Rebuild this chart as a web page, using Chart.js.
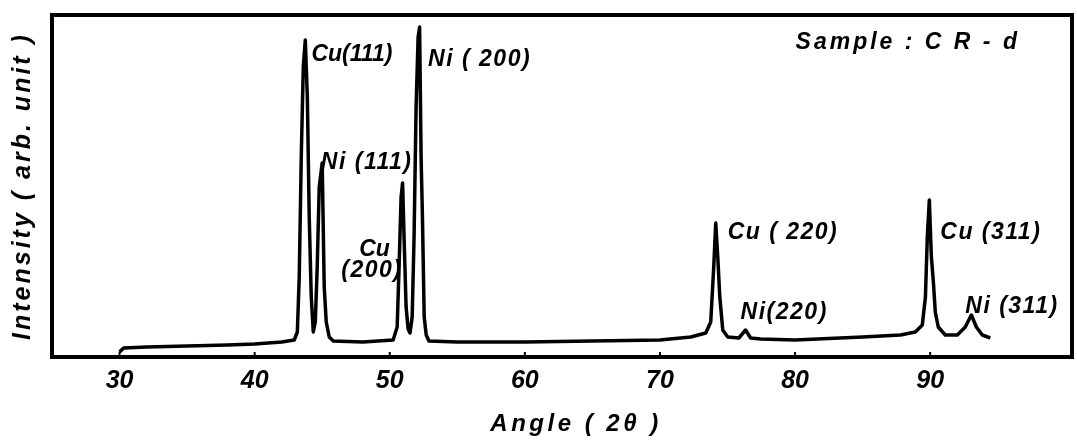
<!DOCTYPE html>
<html>
<head>
<meta charset="utf-8">
<script src="https://cdn.jsdelivr.net/npm/chart.js@4/dist/chart.umd.min.js"></script>
<style>
  html, body { margin: 0; padding: 0; background: #fff; }
  canvas { display: block; }
</style>
</head>
<body>
<canvas id="chart" width="1077" height="441"></canvas>
<script>
// diffraction trace (angle 2θ in degrees, intensity in arb. units)
const angleDeg = [
  30.0, 30.3, 32.0, 35.0, 38.0, 40.0, 42.0, 42.93, 43.16, 43.3, 43.45, 43.6, 43.75, 43.9,
  44.04, 44.19, 44.34, 44.49, 44.63, 44.78, 45.0, 45.15, 45.3, 45.52, 45.82, 48.0, 50.25,
  50.55, 50.69, 50.84, 50.95, 51.06, 51.21, 51.36, 51.5, 51.66, 51.8, 51.95, 52.1, 52.21,
  52.32, 52.42, 52.55, 52.7, 52.9, 55.0, 60.0, 65.0, 70.0, 72.28, 73.39, 73.76, 73.98,
  74.13, 74.28, 74.43, 74.65, 75.02, 75.84, 76.34, 76.71, 77.45, 80.0, 85.0, 87.8, 88.9,
  89.42, 89.65, 89.79, 89.94, 90.09, 90.24, 90.38, 90.6, 91.12, 92.01, 92.6, 93.05, 93.42,
  93.86, 94.45
];
const intensity = [
  5, 9, 10, 11, 12, 13, 15, 17, 25, 80, 200, 290, 317, 260,
  140, 60, 25, 35, 90, 170, 194, 70, 35, 20, 16, 15, 17,
  30, 90, 160, 174, 120, 50, 28, 24, 40, 120, 250, 320, 330,
  200, 140, 40, 22, 16, 15, 15, 16, 17, 20, 24, 35, 90,
  134, 100, 60, 27, 20, 19, 27, 19, 18, 17, 20, 22, 25,
  32, 60, 120, 157, 100, 75, 45, 30, 22, 22, 30, 42, 30,
  22, 19
];
const xTickValues = [30, 40, 50, 60, 70, 80, 90];

// peak labels and the sample note, anchored in data units
const noteText = ["Cu(111)", "Ni (111)", "Cu", "(200)", "Ni ( 200)", "Sample : C R - d",
                  "Cu ( 220)", "Ni(220)", "Cu (311)", "Ni (311)"];
const noteX = [44.2, 44.9, 47.74, 46.41, 52.84, 80.04, 75.01, 75.97, 90.75, 92.6];
const noteY = [302, 194, 107, 86, 297, 314, 124, 44, 124, 50];

const xTitle = "Angle ( 2θ )";
const yTitle = "Intensity ( arb. unit )";

const points = angleDeg.map((a, i) => ({ x: a, y: intensity[i] }));
const FONT = "'Liberation Sans', Arial, sans-serif";

const framePlugin = {
  id: "frame",
  afterDraw(chart) {
    const { ctx, chartArea: a, scales } = chart;
    ctx.save();
    ctx.strokeStyle = "#000";
    ctx.lineWidth = 4;
    ctx.strokeRect(a.left, a.top, a.right - a.left, a.bottom - a.top);
    // small inward ticks on the bottom axis
    ctx.lineWidth = 2;
    xTickValues.forEach(v => {
      const px = scales.x.getPixelForValue(v);
      ctx.beginPath();
      ctx.moveTo(px, a.bottom);
      ctx.lineTo(px, a.bottom - 5);
      ctx.stroke();
    });
    // annotations
    ctx.fillStyle = "#000";
    ctx.font = "italic bold 23px " + FONT;
    ctx.textAlign = "left";
    ctx.textBaseline = "middle";
    noteText.forEach((t, i) => {
      const px = scales.x.getPixelForValue(noteX[i]);
      const py = scales.y.getPixelForValue(noteY[i]);
      ctx.letterSpacing = t.startsWith("Sample") ? "3px" : (i === 0 || i === 2 ? "0px" : "1.5px");
      ctx.fillText(t, px, py);
    });
    // axis titles, spaced out like the original lettering
    ctx.textAlign = "center";
    ctx.font = "italic bold 24px " + FONT;
    ctx.letterSpacing = "3.5px";
    ctx.fillText(xTitle, 576, 424);
    ctx.font = "italic bold 25px " + FONT;
    ctx.letterSpacing = "3px";
    ctx.translate(23, (a.top + a.bottom) / 2);
    ctx.rotate(-Math.PI / 2);
    ctx.fillText(yTitle, 0, 0);
    ctx.restore();
  }
};

new Chart(document.getElementById("chart"), {
  type: "line",
  data: {
    datasets: [{
      data: points,
      borderColor: "#000",
      borderWidth: 3.5,
      borderJoinStyle: "round",
      pointRadius: 0,
      tension: 0,
      fill: false
    }]
  },
  options: {
    responsive: false,
    animation: false,
    devicePixelRatio: 1,
    layout: { padding: { top: 15, right: 5, left: 0, bottom: 0 } },
    plugins: { legend: { display: false }, tooltip: { enabled: false } },
    scales: {
      x: {
        type: "linear",
        min: 25,
        max: 100.5,
        grid: { display: false },
        border: { display: false },
        afterBuildTicks: axis => { axis.ticks = xTickValues.map(v => ({ value: v })); },
        afterFit: axis => { axis.height = 84; },
        ticks: {
          color: "#000",
          padding: 1,
          maxRotation: 0,
          font: { family: FONT, size: 25, style: "italic", weight: "bold" }
        },
        title: { display: false, text: xTitle }
      },
      y: {
        min: 0,
        max: 342,
        grid: { display: false },
        border: { display: false },
        ticks: { display: false },
        afterFit: axis => { axis.width = 52; },
        title: { display: false, text: yTitle }
      }
    }
  },
  plugins: [framePlugin]
});
</script>
</body>
</html>
